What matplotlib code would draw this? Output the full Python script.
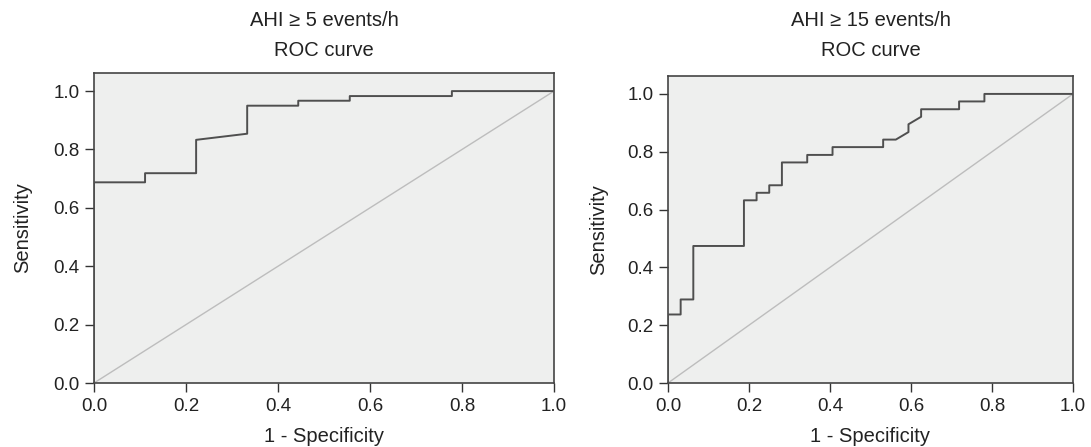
import matplotlib
matplotlib.use("Agg")
import matplotlib.pyplot as plt

plt.rcParams["font.family"] = ["Liberation Sans", "DejaVu Sans"]

# ROC, AHI >= 5 events/h
fpr_5 = [0.0, 0.0, 0.111, 0.111, 0.222, 0.222, 0.333, 0.333, 0.444, 0.444,
         0.556, 0.556, 0.778, 0.778, 1.0]
tpr_5 = [0.0, 0.6875, 0.6875, 0.71875, 0.71875, 0.833, 0.854, 0.95, 0.95, 0.967,
         0.967, 0.983, 0.983, 1.0, 1.0]

# ROC, AHI >= 15 events/h
fpr_15 = [0.0, 0.0, 0.03125, 0.03125, 0.0625, 0.0625, 0.1875, 0.1875, 0.21875, 0.21875,
          0.25, 0.25, 0.28125, 0.28125, 0.34375, 0.34375, 0.40625, 0.40625, 0.53125,
          0.53125, 0.5625, 0.59375, 0.59375, 0.625, 0.625, 0.71875, 0.71875, 0.78125,
          0.78125, 1.0]
tpr_15 = [0.0, 0.237, 0.237, 0.289, 0.289, 0.474, 0.474, 0.632, 0.632, 0.658,
          0.658, 0.684, 0.684, 0.763, 0.763, 0.789, 0.789, 0.816, 0.816,
          0.842, 0.842, 0.868, 0.895, 0.921, 0.947, 0.947, 0.974, 0.974,
          1.0, 1.0]

titles = ["AHI \u2265 5 events/h", "AHI \u2265 15 events/h"]
subtitle = "ROC curve"
ticks = [0.0, 0.2, 0.4, 0.6, 0.8, 1.0]

W, H = 1091, 447
fig = plt.figure(figsize=(W / 100, H / 100), dpi=100)
ax1 = fig.add_axes([94 / W, 64 / H, 460 / W, 310 / H])
ax2 = fig.add_axes([668 / W, 64 / H, 405 / W, 307 / H])

fs_tick = 13.5
fs = 14.5
txt = "#222222"

for ax, fpr, tpr, title, ylab_x in [(ax1, fpr_5, tpr_5, titles[0], -0.135),
                                    (ax2, fpr_15, tpr_15, titles[1], -0.148)]:
    ax.set_facecolor("#eeefee")
    ax.plot([0, 1], [0, 1], color="#bdbdbd", linewidth=1.0, zorder=2)
    ax.plot(fpr, tpr, color="#4f4f4f", linewidth=1.4, zorder=3)
    ax.set_xlim(0, 1)
    ax.set_ylim(0, 1.062)
    ax.set_xticks(ticks)
    ax.set_yticks(ticks)
    ax.set_xticklabels([f"{t:.1f}" for t in ticks])
    ax.set_yticklabels([f"{t:.1f}" for t in ticks])
    ax.tick_params(direction="out", length=6.5, width=1, color="#333333",
                   labelsize=fs_tick, labelcolor=txt, pad=4)
    for s in ax.spines.values():
        s.set_color("#444444")
        s.set_linewidth(1.2)
    ax.set_xlabel("1 - Specificity", fontsize=fs, color=txt, va="top")
    ax.xaxis.set_label_coords(0.5, -0.142)
    ax.set_ylabel("Sensitivity", fontsize=fs, color=txt)
    ax.yaxis.set_label_coords(ylab_x, 0.5)

    # two-line heading above each panel
    pos = ax.get_position()
    cx = (pos.x0 + pos.x1) / 2
    fig.text(cx, 1 - 20 / H, title, ha="center", va="center", fontsize=fs, color=txt)
    fig.text(cx, 1 - 50 / H, subtitle, ha="center", va="center", fontsize=fs, color=txt)

fig.savefig("out.png", dpi=100)
